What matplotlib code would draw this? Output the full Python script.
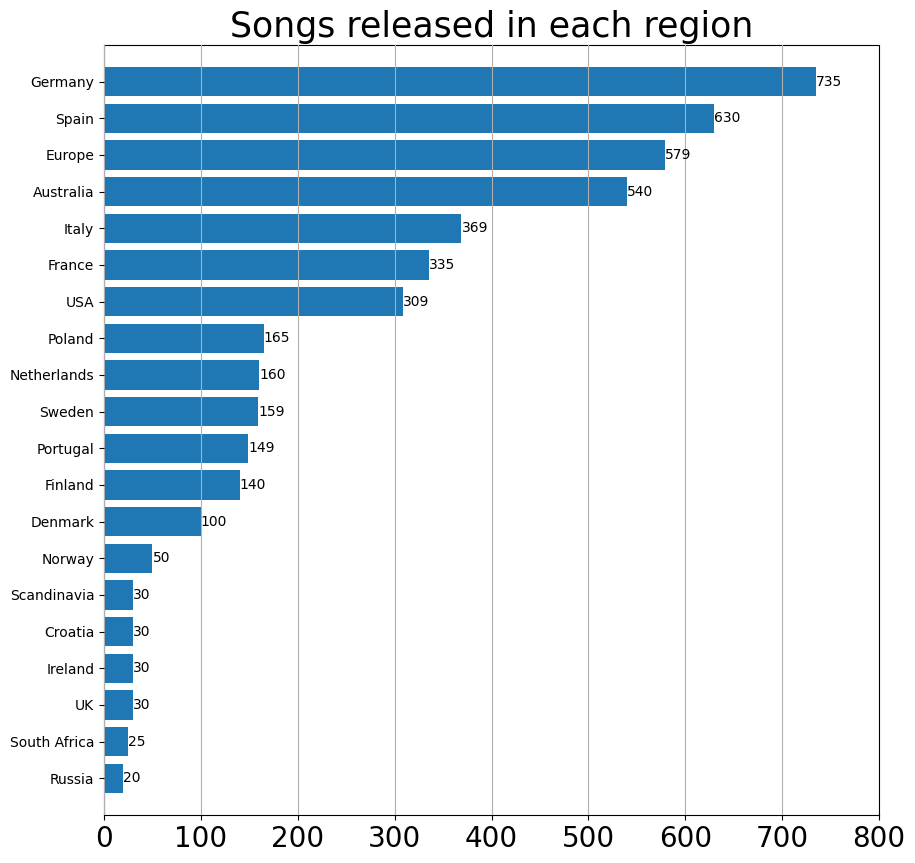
import matplotlib.pyplot as plt

regions = ['Germany', 'Spain', 'Europe', 'Australia', 'Italy', 'France', 'USA',
           'Poland', 'Netherlands', 'Sweden', 'Portugal', 'Finland', 'Denmark',
           'Norway', 'Scandinavia', 'Croatia', 'Ireland', 'UK', 'South Africa', 'Russia']
songs = [735, 630, 579, 540, 369, 335, 309, 165, 160, 159, 149, 140, 100,
         50, 30, 30, 30, 30, 25, 20]

fig = plt.figure(figsize=(9.15, 8.63), dpi=100)
ax = fig.add_axes([104/915, 48/863, 775/915, 770/863])
bars = ax.barh(regions[::-1], songs[::-1])
ax.bar_label(bars)
ax.set_xlim(0, 800)
ax.set_ylim(-1, len(regions))
ax.grid(axis='x')
ax.set_axisbelow(False)
ax.set_title('Songs released in each region', fontsize=25)
ax.tick_params(axis='x', labelsize=20)
fig.savefig('out.png')
